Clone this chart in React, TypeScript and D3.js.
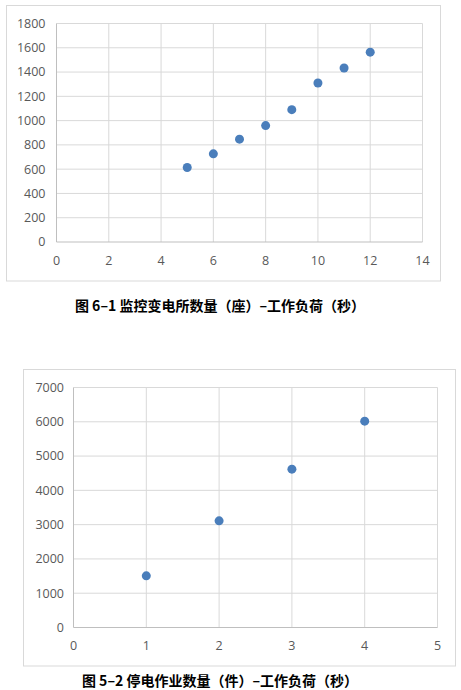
import React, { useEffect, useRef } from 'react';
import * as d3 from 'd3';

// 图 6-1
const stationCounts = [5, 6, 7, 8, 9, 10, 11, 12];
const stationLoads = [614, 726, 847, 959, 1090, 1310, 1433, 1564];
const stationXTicks = [0, 2, 4, 6, 8, 10, 12, 14];
const stationYTicks = [0, 200, 400, 600, 800, 1000, 1200, 1400, 1600, 1800];
const stationCaption = '图 6–1 监控变电所数量（座）–工作负荷（秒）';

// 图 5-2
const outageCounts = [1, 2, 3, 4];
const outageLoads = [1507, 3111, 4618, 6018];
const outageXTicks = [0, 1, 2, 3, 4, 5];
const outageYTicks = [0, 1000, 2000, 3000, 4000, 5000, 6000, 7000];
const outageCaption = '图 5–2 停电作业数量（件）–工作负荷（秒）';

interface PanelSpec {
  xs: number[];
  ys: number[];
  xTicks: number[];
  yTicks: number[];
  caption: string;
  frame: [number, number, number, number]; // x0, y0, x1, y1
  plot: [number, number, number, number];
  captionY: number;
  yLabelGap: number;
}

function drawPanel(root: d3.Selection<SVGGElement, unknown, null, undefined>, p: PanelSpec) {
  const [fx0, fy0, fx1, fy1] = p.frame;
  const [px0, py0, px1, py1] = p.plot;
  const g = root.append('g');

  g.append('rect')
    .attr('x', fx0).attr('y', fy0)
    .attr('width', fx1 - fx0).attr('height', fy1 - fy0)
    .attr('fill', '#fff')
    .attr('stroke', '#d9d9d9');

  const x = d3.scaleLinear()
    .domain(d3.extent(p.xTicks) as [number, number])
    .range([px0, px1]);
  const y = d3.scaleLinear()
    .domain(d3.extent(p.yTicks) as [number, number])
    .range([py1, py0]);

  // gridlines
  g.append('g').selectAll('line.h')
    .data(p.yTicks.slice(1))
    .enter().append('line')
    .attr('x1', px0).attr('x2', px1)
    .attr('y1', d => y(d)).attr('y2', d => y(d))
    .attr('stroke', '#d9d9d9');
  g.append('g').selectAll('line.v')
    .data(p.xTicks.slice(1))
    .enter().append('line')
    .attr('x1', d => x(d)).attr('x2', d => x(d))
    .attr('y1', py0).attr('y2', py1)
    .attr('stroke', '#d9d9d9');

  // axes lines
  g.append('line')
    .attr('x1', px0).attr('x2', px1).attr('y1', py1).attr('y2', py1)
    .attr('stroke', '#bfbfbf');
  g.append('line')
    .attr('x1', px0).attr('x2', px0).attr('y1', py0).attr('y2', py1)
    .attr('stroke', '#bfbfbf');

  const tickFont = '"Open Sans", "Liberation Sans", sans-serif';

  g.append('g').selectAll('text')
    .data(p.xTicks)
    .enter().append('text')
    .attr('x', d => x(d))
    .attr('y', py1 + 18.5)
    .attr('dy', '0.35em')
    .attr('text-anchor', 'middle')
    .attr('font-family', tickFont)
    .attr('font-size', 12.5)
    .attr('fill', '#595959')
    .text(d => String(d));

  g.append('g').selectAll('text')
    .data(p.yTicks)
    .enter().append('text')
    .attr('x', px0 - p.yLabelGap)
    .attr('y', d => y(d))
    .attr('dy', '0.35em')
    .attr('text-anchor', 'end')
    .attr('font-family', tickFont)
    .attr('font-size', 12.5)
    .attr('fill', '#595959')
    .text(d => String(d));

  g.append('g').selectAll('circle')
    .data(p.xs.map((v, i) => ({ x: v, y: p.ys[i] })))
    .enter().append('circle')
    .attr('cx', d => x(d.x))
    .attr('cy', d => y(d.y))
    .attr('r', 4.5)
    .attr('fill', '#4a7ebb');

  g.append('text')
    .attr('x', 220)
    .attr('y', p.captionY)
    .attr('dy', '0.35em')
    .attr('text-anchor', 'middle')
    .attr('font-family', '"Noto Sans CJK SC", sans-serif')
    .attr('font-weight', 'bold')
    .attr('font-size', 14)
    .attr('fill', '#000')
    .text(p.caption);
}

const App: React.FC = () => {
  const ref = useRef<SVGSVGElement | null>(null);

  useEffect(() => {
    const svg = d3.select(ref.current);
    svg.selectAll('*').remove();
    const root = svg.append('g');

    drawPanel(root, {
      xs: stationCounts,
      ys: stationLoads,
      xTicks: stationXTicks,
      yTicks: stationYTicks,
      caption: stationCaption,
      frame: [6.5, 5.5, 440.5, 281],
      plot: [56.5, 23.5, 422.5, 242],
      captionY: 306,
      yLabelGap: 11,
    });

    drawPanel(root, {
      xs: outageCounts,
      ys: outageLoads,
      xTicks: outageXTicks,
      yTicks: outageYTicks,
      caption: outageCaption,
      frame: [23.5, 369.5, 455.5, 666],
      plot: [73.5, 387.5, 437.5, 627.5],
      captionY: 681,
      yLabelGap: 9.5,
    });
  }, []);

  return (
    <svg
      ref={ref}
      width={461}
      height={690}
      style={{ position: 'absolute', left: 0, top: 0, background: '#fff' }}
    />
  );
};

export default App;
